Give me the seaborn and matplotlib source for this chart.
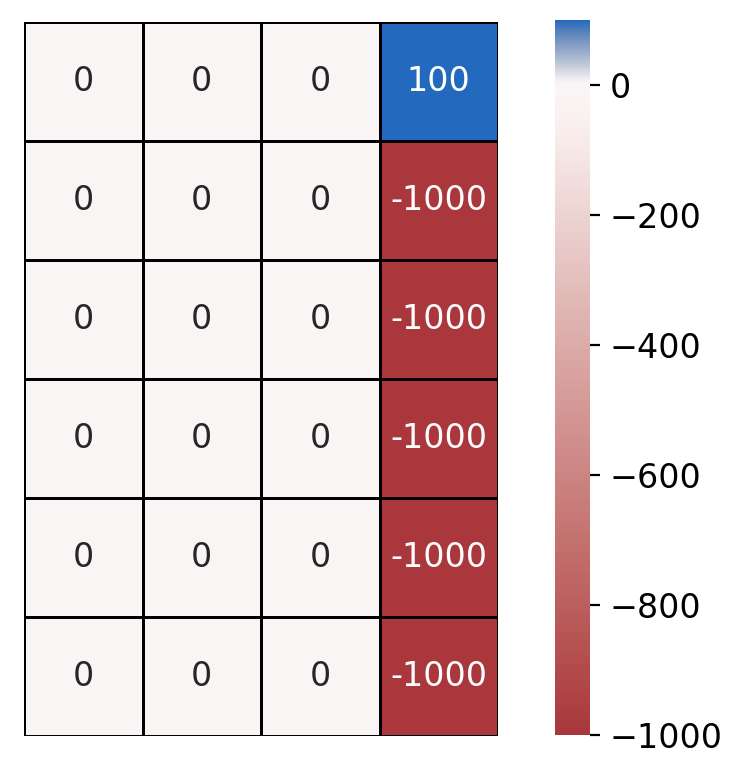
import numpy as np
import pandas as pd
import matplotlib
matplotlib.use("Agg")
import matplotlib.pyplot as plt
import matplotlib.colors as mcolors
import seaborn as sns

rows = ["r0", "r1", "r2", "r3", "r4", "r5"]
cols = ["c0", "c1", "c2", "c3"]
col0 = [0, 0, 0, 0, 0, 0]
col1 = [0, 0, 0, 0, 0, 0]
col2 = [0, 0, 0, 0, 0, 0]
col3 = [100, -1000, -1000, -1000, -1000, -1000]

df = pd.DataFrame({"c0": col0, "c1": col1, "c2": col2, "c3": col3}, index=rows)

W, H = 747, 779
fig = plt.figure(figsize=(W / 200, H / 200), dpi=200)
ax = fig.add_axes([24 / W, 1 - 736 / H, 474 / W, 714 / H])
cax = fig.add_axes([555 / W, 1 - 735 / H, 35 / W, 715 / H])

norm = mcolors.TwoSlopeNorm(vmin=-1000, vcenter=0, vmax=100)
sns.heatmap(df, ax=ax, cbar_ax=cax, cmap="vlag_r", norm=norm, annot=True, fmt="d",
            linewidths=1, linecolor="black", xticklabels=False, yticklabels=False,
            annot_kws={"fontsize": 12})
cax.set_yscale("linear")
cax.set_ylim(-1000, 100)
cax.set_yticks([0, -200, -400, -600, -800, -1000])
cax.tick_params(labelsize=12)
fig.savefig("out.png", dpi=200)
